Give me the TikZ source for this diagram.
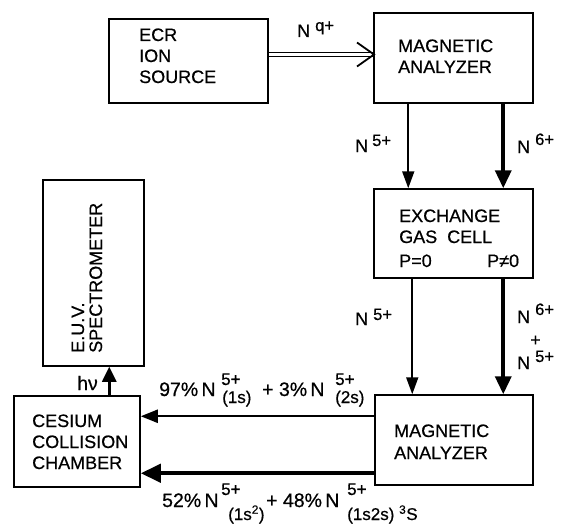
\documentclass[tikz,border=0pt]{standalone}
\usepackage{fontspec}
\setmainfont{Liberation Sans}[FakeBold=0.6]
\usetikzlibrary{arrows.meta}
\begin{document}
\begin{tikzpicture}[x=1pt,y=-1pt,
  box/.style={draw, line width=1.5pt, inner sep=0pt},
  txt/.style={anchor=base west, inner sep=0pt, font=\fontsize{18}{20}\selectfont},
  lbl/.style={anchor=base west, inner sep=0pt, font=\fontsize{19.5}{21}\selectfont},
  ion/.style={anchor=base west, inner sep=0pt, font=\fontsize{18}{19}\selectfont},
  chg/.style={anchor=base west, inner sep=0pt, font=\fontsize{16.5}{17}\selectfont},
  scr/.style={anchor=base west, inner sep=0pt, font=\fontsize{17}{18}\selectfont},
  thinar/.style={line width=1.8pt, -{Triangle[length=17pt,width=12pt]}},
  thickar/.style={line width=3.6pt, -{Triangle[length=18pt,width=16pt]}},
  hthin/.style={line width=2.2pt, -{Triangle[length=17pt,width=13pt]}},
  hthick/.style={line width=4.2pt, -{Triangle[length=20pt,width=18pt]}},
  dbl/.style={double, double distance=2.2pt, line width=1.4pt},
  chev/.style={line width=1.8pt}
]
\useasboundingbox (0,0) rectangle (562,527);
\fill[white] (0,0) rectangle (562,527);

% boxes
\node[box, minimum width=159pt, minimum height=84pt] (ecr) at (188.5,61) {};
\node[box, minimum width=159pt, minimum height=90pt] (ana1) at (453.5,58) {};
\node[box, minimum width=159pt, minimum height=89pt] (gas) at (453.5,233.5) {};
\node[box, minimum width=158pt, minimum height=90pt] (ana2) at (454,440) {};
\node[box, minimum width=126pt, minimum height=91pt] (cs) at (77,441.5) {};
\node[box, minimum width=101pt, minimum height=186pt] (euv) at (93.5,273) {};

% box texts
\node[txt] (ecr1) at (139,41) {ECR};
\node[txt] (ecr2) at (139,62) {ION};
\node[txt] (ecr3) at (139,83) {SOURCE};
\node[txt] (a11) at (398,52) {MAGNETIC};
\node[txt] (a12) at (398,73) {ANALYZER};
\node[txt] (g1) at (399,222) {EXCHANGE};
\node[txt] (g2) at (399,243) {GAS\ \ CELL};
\node[txt] (g3) at (399,267) {P=0};
\node[txt] (g4) at (487,267) {P≠0};
\node[txt] (a21) at (394,437) {MAGNETIC};
\node[txt] (a22) at (394,459) {ANALYZER};
\node[txt] (c1) at (32,427) {CESIUM};
\node[txt] (c2) at (32,448) {COLLISION};
\node[txt] (c3) at (32,469) {CHAMBER};
\node[txt, rotate=90] (e1) at (84,353) {E.U.V.};
\node[txt, rotate=90] (e2) at (102,353) {SPECTROMETER};

% double arrow ECR -> analyzer
\coordinate (qin) at (374,54.5);
\draw[dbl] (ecr.east |- qin) -- (qin);
\draw[chev] (qin) ++(-17,-12) -- (qin) -- ++(-17,12);
\node[ion] (nq) at (297,37) {N};
\node[chg] (q) at (315,31) {q+};

% analyzer -> gas cell
\draw[thinar] ([xshift=35pt]ana1.south west) -- ([xshift=35pt]gas.north west);
\draw[thickar] ([xshift=130pt]ana1.south west) -- ([xshift=130pt]gas.north west);
\node[ion] (n5a) at (355,152) {N};
\node[chg] (n5as) at (372,146) {5+};
\node[ion] (n6a) at (517,153) {N};
\node[chg] (n6as) at (535,145) {6+};

% gas cell -> analyzer 2
\draw[thinar] ([xshift=39pt]gas.south west) -- ([xshift=38pt]ana2.north west);
\draw[thickar] ([xshift=130pt]gas.south west) -- ([xshift=129pt]ana2.north west);
\node[ion] (n5b) at (355,325) {N};
\node[chg] (n5bs) at (373,320) {5+};
\node[ion] (n6b) at (517,323) {N};
\node[chg] (n6bs) at (535,315) {6+};
\node[ion] (plus) at (530,346) {+};
\node[ion] (n5c) at (517,369) {N};
\node[chg] (n5cs) at (535,362) {5+};

% analyzer 2 -> cesium
\draw[hthin] ([yshift=-22pt]ana2.north west) -- ([yshift=-21pt]cs.north east);
\draw[hthick] ([yshift=-79pt]ana2.north west) -- ([yshift=-78pt]cs.north east);

\node[lbl] (u1) at (159,396) {97\%\,N};
\node[scr] (u1s) at (221,385) {5+};
\node[scr] (u1b) at (222,403) {(1s)};
\node[lbl] (u2) at (262,396) {+ 3\%\,N};
\node[scr] (u2s) at (335,385) {5+};
\node[scr] (u2b) at (335,403) {(2s)};

\node[lbl] (l1) at (162,507) {52\%\,N};
\node[scr] (l1s) at (221,495) {5+};
\node[scr] (l1b) at (228,520) {(1s\textsuperscript{2})};
\node[lbl] (l2) at (266,507) {+ 48\%\,N};
\node[scr] (l2s) at (347,495) {5+};
\node[scr] (l2b) at (347,520) {(1s2s) \textsuperscript{3}S};

% cesium -> spectrometer
\draw[line width=2.6pt, -{Triangle[length=15pt,width=14pt]}] ([xshift=96pt]cs.north west) -- ([xshift=67pt]euv.south west);
\node[lbl] (hv) at (77,390) {hν};
\end{tikzpicture}
\end{document}
